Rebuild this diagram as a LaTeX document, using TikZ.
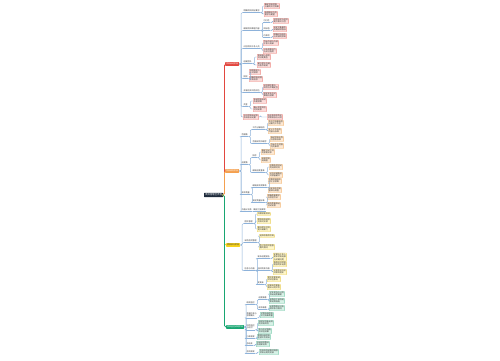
\documentclass[tikz,border=0pt]{standalone}
\usepackage{fontspec}
\newfontfamily\cjk{Noto Sans CJK SC}
\definecolor{rootc}{HTML}{1E2B3C}
\definecolor{redc}{HTML}{E2473F}
\definecolor{redl}{HTML}{FBDCDA}
\definecolor{redb}{HTML}{EE8A84}
\definecolor{orac}{HTML}{F4A04F}
\definecolor{oral}{HTML}{FDE8D2}
\definecolor{orab}{HTML}{F4B877}
\definecolor{yelc}{HTML}{F6D21E}
\definecolor{yell}{HTML}{FFF6C8}
\definecolor{yelb}{HTML}{E9CF5C}
\definecolor{grnc}{HTML}{18A672}
\definecolor{grnl}{HTML}{D6F1E6}
\definecolor{grnb}{HTML}{7CCDAE}
\definecolor{linkc}{HTML}{8DB2DA}
\definecolor{txtc}{HTML}{333333}
\newcommand\conn[3][linkc]{\draw[link,draw=#1] (#2) -- ++(2,0) |- (#3);}
\tikzset{
  base/.style={font=\cjk\fontsize{2}{2.4}\selectfont, inner sep=0.6pt, align=left, anchor=west, text=txtc},
  rootn/.style={base, fill=rootc, text=white, inner sep=1pt, font=\cjk\fontsize{2.4}{2.8}\selectfont, rounded corners=0.4pt},
  mainn/.style={base, fill=#1, text=white, inner sep=0.9pt, rounded corners=0.4pt},
  subn/.style={base, inner sep=0.5pt, append after command={(\tikzlastnode.south west) edge[draw=linkc, line width=0.35pt] (\tikzlastnode.south east)}},
  leafn/.style={base, rounded corners=0.3pt, line width=0.3pt},
  leafr/.style={leafn, fill=redl, draw=redb},
  leafo/.style={leafn, fill=oral, draw=orab},
  leafy/.style={leafn, fill=yell, draw=yelb},
  leafg/.style={leafn, fill=grnl, draw=grnb},
  link/.style={line width=0.45pt, rounded corners=1pt},
  mlink/.style={line width=0.8pt, rounded corners=1.5pt}
}
\begin{document}
\begin{tikzpicture}[x=1pt,y=-1pt]
\useasboundingbox[fill=white] (0,0) rectangle (500,360);
% root
\node[rootn] (R) at (204,195) {项目管理全流程};
% main branches
\node[mainn=redc] (M1) at (225,64) {项目启动阶段};
\node[mainn=orac] (M2) at (225,171) {项目规划阶段};
\node[mainn=yelc, text=txtc] (M3) at (226,245) {项目执行阶段};
\node[mainn=grnc] (M4) at (226,327) {项目监控收尾阶段};
\draw[mlink,draw=redc] (R.east) -- ++(1.2,0) |- (M1.west);
\draw[mlink,draw=orac] (R.east) -- ++(1.2,0) |- (M2.west);
\draw[mlink,draw=yelc] (R.east) -- ++(1.2,0) |- (M3.west);
\draw[mlink,draw=grnc] (R.east) -- ++(1.2,0) |- (M4.west);

% ---------- red branch ----------
\node[subn] (a) at (243,11) {明确项目目标要求};
\node[leafr] (a1) at (264,6) {确定项目范围\\与最终交付成果};
\node[leafr] (a2) at (264,14) {梳理相关方的\\需求与期望};
\node[subn] (b) at (243,29) {编制项目章程内容};
\node[subn] (b1) at (263,21) {可行性};
\node[subn] (b2) at (263,29) {目标值};
\node[subn] (b3) at (263,36) {约束项};
\node[leafr] (b1l) at (273,21) {评估技术与经济\\两方面可行性};
\node[leafr] (b2l) at (273,29) {设定可衡量的\\关键绩效指标};
\node[leafr] (b3l) at (273,36) {明确时间成本\\与资源的限制};
\node[subn] (c) at (243,47) {识别项目干系人员};
\node[leafr] (c1) at (263,43) {列出内部与外部\\干系人清单};
\node[leafr] (c2) at (263,51) {分析其影响力\\与关注程度};
\node[subn] (d) at (243,62) {组建团队};
\node[leafr] (d1) at (257,57) {挑选核心成员\\并分配角色};
\node[leafr] (d2) at (257,65) {建立团队沟通\\与协作机制};
\node[subn] (e) at (243,77) {授权};
\node[leafr] (e1) at (249,72) {获得发起人\\正式授权};
\node[leafr] (e2) at (249,79) {明确项目经理\\职责权限};
\node[subn] (f) at (243,91) {开展初步风险评估};
\node[leafr] (f1) at (263,87) {识别潜在重大\\风险与不确定性};
\node[leafr] (f2) at (263,95) {制定初步应对\\策略与预案};
\node[subn] (g) at (243,105) {资金};
\node[leafr] (g1) at (253,101) {申请项目启动\\所需预算};
\node[leafr] (g2) at (253,109) {确认资金到位\\时间安排};
\node[leafr] (h) at (243,117) {召开项目启动会\\形成会议纪要};
\node[leafr] (h1) at (267,117) {向全体成员传达\\项目目标与计划};
\foreach \n in {a,b,c,d,e,f,g} {\conn{M1.east}{\n.south west}}
\conn{M1.east}{h.west}
\conn{a.south east}{a1.west}\conn{a.south east}{a2.west}
\conn{b.south east}{b1.south west}\conn{b.south east}{b2.south west}\conn{b.south east}{b3.south west}
\conn{b1.south east}{b1l.west}\conn{b2.south east}{b2l.west}\conn{b3.south east}{b3l.west}
\conn{c.south east}{c1.west}\conn{c.south east}{c2.west}
\conn{d.south east}{d1.west}\conn{d.south east}{d2.west}
\conn{e.south east}{e1.west}\conn{e.south east}{e2.west}
\conn{f.south east}{f1.west}\conn{f.south east}{f2.west}
\conn{g.south east}{g1.west}\conn{g.south east}{g2.west}
\conn{h.east}{h1.west}

% ---------- orange branch ----------
\node[subn] (A) at (241,135) {范围篇};
\node[subn] (A1) at (252,128) {工作分解结构};
\node[leafo] (A1a) at (268,123) {将交付成果逐层\\分解为工作包};
\node[leafo] (A1b) at (268,131) {定义工作包的\\内容与标准};
\node[subn] (A2) at (252,142) {范围说明书编写};
\node[leafo] (A2a) at (270,139) {描述项目边界\\与验收标准};
\node[leafo] (A2b) at (270,146) {列出不在范围\\内的事项};
\node[subn] (B) at (241,163) {进度篇};
\node[subn] (B1) at (252,156) {排序};
\node[leafo] (B1a) at (261,152) {确定活动之间\\的依赖关系};
\node[leafo] (B1b) at (261,160) {绘制项目\\网络图};
\node[subn] (B2) at (252,171) {编制进度基准};
\node[leafo] (B2a) at (269,167) {估算各项活动\\的持续时间};
\node[leafo] (B2b) at (269,175) {识别关键路径\\并预留缓冲};
\node[subn] (C) at (241,193) {成本质量};
\node[subn] (C1) at (252,186) {编制成本预算表};
\node[leafo] (C1a) at (268,181) {估算资源成本\\并汇总预算};
\node[leafo] (C1b) at (268,190) {设定成本控制\\基准与阈值};
\node[subn] (C2) at (252,201) {制定质量标准};
\node[leafo] (C2a) at (267,197) {明确质量要求\\与检验方法};
\node[leafo] (C2b) at (267,205) {规划质量保证\\活动安排};
\node[subn] (D) at (241,210) {沟通计划表};
\node[subn] (D1) at (253,210) {确定汇报频率};
\foreach \n in {A,B,C,D} {\conn{M2.east}{\n.south west}}
\conn{A.south east}{A1.south west}\conn{A.south east}{A2.south west}
\conn{A1.south east}{A1a.west}\conn{A1.south east}{A1b.west}
\conn{A2.south east}{A2a.west}\conn{A2.south east}{A2b.west}
\conn{B.south east}{B1.south west}\conn{B.south east}{B2.south west}
\conn{B1.south east}{B1a.west}\conn{B1.south east}{B1b.west}
\conn{B2.south east}{B2a.west}\conn{B2.south east}{B2b.west}
\conn{C.south east}{C1.south west}\conn{C.south east}{C2.south west}
\conn{C1.south east}{C1a.west}\conn{C1.south east}{C1b.west}
\conn{C2.south east}{C2a.west}\conn{C2.south east}{C2b.west}
\draw[link,draw=linkc] (D.south east) -- (D1.south west);

% ---------- yellow branch ----------
\node[subn] (Y1) at (244,222) {团队管理};
\node[leafy] (Y1a) at (257,214) {开展技能培训};
\node[leafy] (Y1b) at (257,221) {跟踪成员绩效\\并及时反馈};
\node[leafy] (Y1c) at (257,229) {解决团队冲突\\提升凝聚力};
\node[subn] (Y2) at (244,241) {采购合同管理};
\node[leafy] (Y2a) at (259,236) {选择合格供应商};
\node[leafy] (Y2b) at (259,247) {签订合同并监督\\履约情况};
\node[subn] (Y3) at (244,269) {信息与沟通};
\node[subn] (Y3a) at (257,257) {发布进度报告};
\node[leafy] (Y3al) at (273,257) {定期向干系人\\发布项目进展\\与关键问题};
\node[subn] (Y3b) at (257,269) {组织例会沟通};
\node[leafy] (Y3ba) at (273,264) {每周召开项目\\例会同步进度};
\node[leafy] (Y3bb) at (273,272) {记录会议决议\\并跟踪落实};
\node[subn] (Y3c) at (257,283) {变更单};
\node[leafy] (Y3ca) at (267,279) {提交变更申请\\并评估影响};
\node[leafy] (Y3cb) at (267,287) {经审批后更新\\相关计划文件};
\foreach \n in {Y1,Y2,Y3} {\conn{M3.east}{\n.south west}}
\conn{Y1.south east}{Y1a.west}\conn{Y1.south east}{Y1b.west}\conn{Y1.south east}{Y1c.west}
\conn{Y2.south east}{Y2a.west}\conn{Y2.south east}{Y2b.west}
\conn{Y3.south east}{Y3a.south west}\conn{Y3.south east}{Y3b.south west}\conn{Y3.south east}{Y3c.south west}
\conn{Y3a.south east}{Y3al.west}
\conn{Y3b.south east}{Y3ba.west}\conn{Y3b.south east}{Y3bb.west}
\conn{Y3c.south east}{Y3ca.west}\conn{Y3c.south east}{Y3cb.west}

% ---------- green branch ----------
\node[subn] (G1) at (246,303) {绩效监控};
\node[subn] (G1a) at (258,298) {进度偏差};
\node[leafg] (G1aa) at (269,294) {对比实际与计划\\找出进度偏差};
\node[leafg] (G1ab) at (269,301) {采取赶工或快速\\跟进等措施};
\node[subn] (G1b) at (258,308) {成本偏差};
\node[leafg] (G1ba) at (269,308) {运用挣值法分析\\成本执行情况};
\node[subn] (G2) at (246,315) {质量检查与\\验收确认};
\node[leafg] (G2a) at (260,315) {对照标准检查\\交付成果质量};
\node[subn] (G3) at (246,327) {风险监控\\与应对};
\node[leafg] (G3a) at (258,323) {持续识别新出现\\的项目风险};
\node[leafg] (G3b) at (258,331) {执行应对措施\\并评估效果};
\node[subn] (G4) at (246,337) {行政收尾};
\node[leafg] (G4a) at (257,337) {整理归档项目\\全部文件资料};
\node[subn] (G5) at (246,344) {总结会};
\node[leafg] (G5a) at (256,344) {总结经验教训\\形成知识库};
\node[subn] (G6) at (246,352) {合同收尾};
\node[leafg] (G6a) at (259,352) {完成合同结算并释放\\项目占用的资源};
\foreach \n in {G1,G2,G3,G4,G5,G6} {\conn{M4.east}{\n.south west}}
\conn{G1.south east}{G1a.south west}\conn{G1.south east}{G1b.south west}
\conn{G1a.south east}{G1aa.west}\conn{G1a.south east}{G1ab.west}
\conn{G1b.south east}{G1ba.west}
\conn{G2.south east}{G2a.west}
\conn{G3.south east}{G3a.west}\conn{G3.south east}{G3b.west}
\conn{G4.south east}{G4a.west}
\conn{G5.south east}{G5a.west}
\conn{G6.south east}{G6a.west}
\end{tikzpicture}
\end{document}
